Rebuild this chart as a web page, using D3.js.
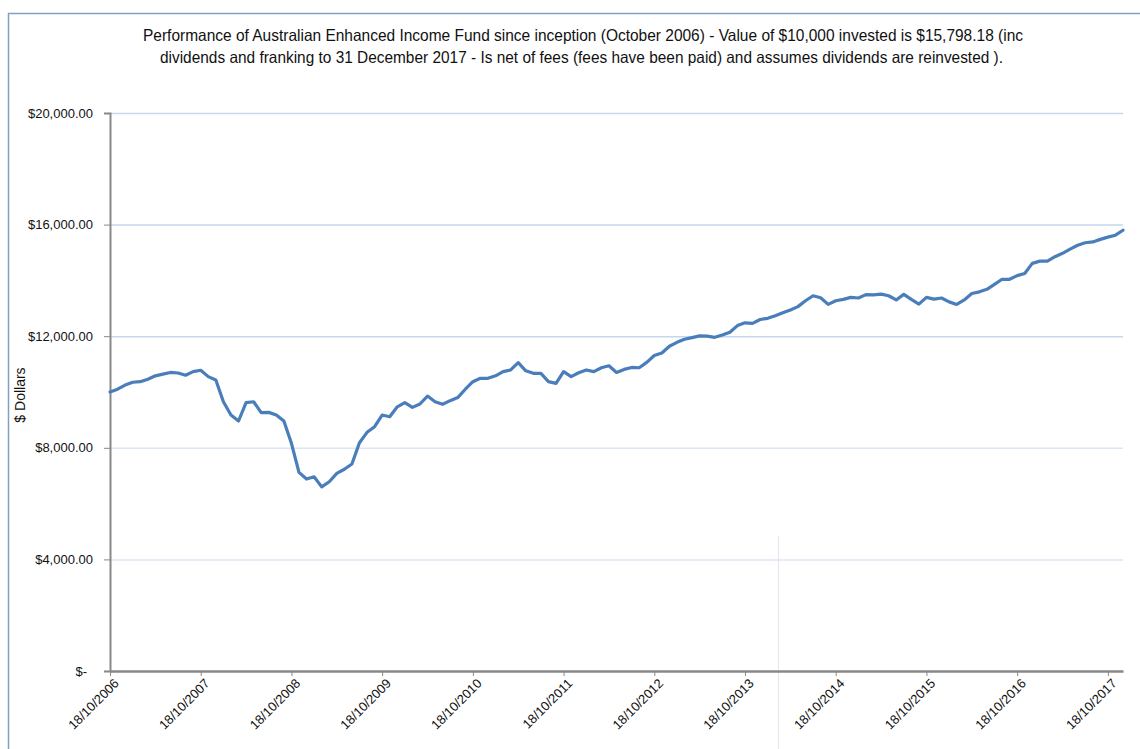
<!DOCTYPE html> <meta charset="utf-8" />
<style>
  body {
    margin: 0;
    overflow: hidden;
    background: white;
  }
  svg {
    font-family: "Liberation Sans", Arial, sans-serif;
  }
</style>
<body>
  <svg></svg>
  <script src="https://d3js.org/d3.v7.min.js"></script>
  <script>
    var width = 1140, height = 749;

    // monthly values, 18/10/2006 .. 12/2017 (value of $10,000 invested)
    var values = [
      10000, 10100, 10250, 10350, 10370, 10460, 10580, 10640, 10700, 10680,
      10600, 10730, 10780, 10550, 10430, 9650, 9175, 8960, 9620, 9650,
      9260, 9270, 9175, 8960, 8160, 7120, 6880, 6960, 6600, 6785,
      7085, 7230, 7420, 8180, 8555, 8755, 9175, 9115, 9470, 9620,
      9450, 9570, 9855, 9650, 9560, 9690, 9800, 10100, 10370, 10490,
      10490, 10580, 10730, 10790, 11050, 10760, 10670, 10670, 10370, 10310,
      10730, 10550, 10690, 10790, 10730, 10870, 10940, 10700, 10810, 10880,
      10870, 11060, 11310, 11400, 11640, 11780, 11890, 11950, 12010, 12000,
      11960, 12040, 12140, 12380, 12480, 12460, 12600, 12640, 12730, 12840,
      12940, 13060, 13270, 13450, 13380, 13140, 13270, 13320, 13390, 13370,
      13490, 13480, 13510, 13450, 13300, 13500, 13320, 13150, 13390, 13330,
      13370, 13230, 13140, 13300, 13530, 13590, 13680, 13860, 14040, 14040,
      14170, 14250, 14610, 14690, 14690, 14850, 14970, 15120, 15260, 15350,
      15380, 15470, 15550, 15620, 15798.18
    ];

    // category labels: the 18th of each month from inception
    var fmtDate = d3.timeFormat("%d/%m/%Y");
    var startDate = new Date(2006, 9, 18);
    var dates = d3.range(values.length).map(i => fmtDate(d3.timeMonth.offset(startDate, i)));

    var yTicks = [0, 4000, 8000, 12000, 16000, 20000];
    var titleLines = [
      "Performance of Australian Enhanced Income Fund since inception (October 2006) - Value of $10,000 invested is $15,798.18 (inc",
      "dividends and franking to 31 December 2017 - Is net of fees (fees have been paid) and assumes dividends are reinvested )."
    ];

    var plotL = 110, plotR = 1123, plotT = 113, plotB = 671;

    var svg = d3.select("svg")
      .attr("width", width)
      .attr("height", height);

    // outer frame
    svg.append("path")
      .attr("d", "M8.5," + height + "V13.5H" + width)
      .attr("fill", "none")
      .attr("stroke", "#7f9fc8")
      .attr("stroke-width", 1.5);

    var x = d3.scalePoint().domain(dates).range([plotL, plotR]);
    var y = d3.scaleLinear().domain([0, 20000]).range([plotB, plotT]);

    // gridlines
    svg.append("g")
      .selectAll("line")
      .data(yTicks.filter(d => d > 0))
      .enter()
      .append("line")
      .attr("x1", plotL)
      .attr("x2", plotR)
      .attr("y1", d => y(d) + 0.5)
      .attr("y2", d => y(d) + 0.5)
      .attr("stroke", d => d <= 8000 ? "#dde6f4" : "#c5d6ee")
      .attr("stroke-width", 1.5);

    // faint vertical line in the lower part
    svg.append("line")
      .attr("x1", 778.5).attr("x2", 778.5)
      .attr("y1", 536).attr("y2", height)
      .attr("stroke", "#dfe6ee")
      .attr("stroke-width", 1);

    // y axis
    var yAxis = svg.append("g")
      .attr("transform", "translate(" + plotL + ",0)")
      .call(d3.axisLeft(y)
        .tickValues(yTicks)
        .tickSize(6)
        .tickPadding(11)
        .tickFormat(d => d === 0 ? "$-" : d3.format("$,.2f")(d)));
    yAxis.selectAll("text")
      .attr("font-size", 13)
      .attr("fill", "#111")
      .attr("dx", d => d === 0 ? "-6" : null);
    yAxis.selectAll("line").attr("stroke", "#888");
    yAxis.select(".domain").attr("stroke", "#888").attr("stroke-width", 2);

    // x axis
    var xTickVals = dates.filter((d, i) => i % 12 === 0);
    var xAxis = svg.append("g")
      .attr("transform", "translate(0," + plotB + ")")
      .call(d3.axisBottom(x).tickValues(xTickVals).tickSize(5).tickSizeOuter(0));
    xAxis.select(".domain").attr("stroke", "#888").attr("stroke-width", 2.5);
    xAxis.selectAll("line").attr("stroke", "#888");
    xAxis.selectAll("text")
      .attr("font-size", 13)
      .attr("fill", "#111")
      .attr("text-anchor", "end")
      .attr("transform", "translate(6,10) rotate(-45)")
      .attr("dy", "0.35em")
      .attr("y", 0);

    // axis title
    svg.append("text")
      .attr("transform", "translate(25,395) rotate(-90)")
      .attr("text-anchor", "middle")
      .attr("font-size", 14)
      .attr("fill", "#111")
      .text("$ Dollars");

    // chart title
    var lens = [880, 843];
    svg.append("g")
      .selectAll("text")
      .data(titleLines)
      .enter()
      .append("text")
      .attr("x", (d, i) => i === 0 ? 143 : 160)
      .attr("y", (d, i) => 41 + i * 22)
      .attr("font-size", 16.5)
      .attr("fill", "#111")
      .attr("textLength", (d, i) => lens[i])
      .attr("lengthAdjust", "spacingAndGlyphs")
      .text(d => d);

    // the line
    var line = d3.line()
      .x((d, i) => x(dates[i]))
      .y(d => y(d));

    svg.append("path")
      .datum(values)
      .attr("fill", "none")
      .attr("stroke", "#4a7ebb")
      .attr("stroke-width", 3.2)
      .attr("stroke-linejoin", "round")
      .attr("stroke-linecap", "round")
      .attr("d", line);
  </script>
</body>
